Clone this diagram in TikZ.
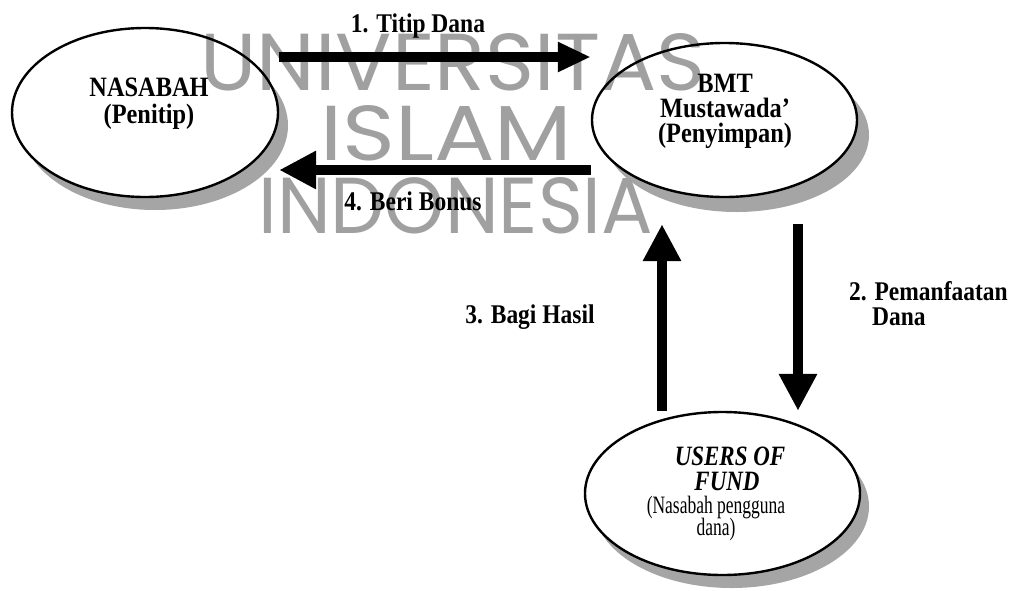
\documentclass[tikz,border=0pt]{standalone}
\usepackage{graphicx}
\usepackage{fontspec}
\setmainfont{Liberation Serif}
\newfontfamily\wmfont{Poppins}
\newfontfamily\lblserif[FakeStretch=0.87]{Liberation Serif}
\newfontfamily\ufserif[FakeStretch=0.82]{Liberation Serif}
\newfontfamily\nsserif[FakeStretch=0.70]{Liberation Serif}
\usetikzlibrary{shapes.geometric,arrows.meta,calc}
\definecolor{wmgray}{RGB}{160,160,160}
\definecolor{shgray}{RGB}{165,165,165}
\pgfdeclarelayer{shadow}
\pgfdeclarelayer{wm}
\pgfsetlayers{shadow,wm,main}
\begin{document}
\begin{tikzpicture}[x=1pt,y=-1pt,
  oval/.style={ellipse, draw=black, line width=2.4pt, inner sep=0pt},
  bigarrow/.style={line width=10pt, -{Triangle[length=37pt,width=36pt]}},
  smallarrow/.style={line width=10pt, -{Triangle[length=33pt,width=28pt]}},
  lbl/.style={font={\lblserif\bfseries\fontsize{27}{29}\selectfont}, inner sep=0pt, anchor=base},
  ovtxt/.style={font={\lblserif\bfseries\fontsize{28}{30}\selectfont}, inner sep=0pt, anchor=base},
  uftxt/.style={font={\ufserif\bfseries\itshape\fontsize{28}{30}\selectfont}, inner sep=0pt, anchor=base},
  nstxt/.style={font={\nsserif\fontsize{25}{27}\selectfont}, inner sep=0pt, anchor=base},
  wm/.style={text=wmgray, font=\wmfont, inner sep=0pt, anchor=base west}]
\useasboundingbox (0,0) rectangle (1013,590);

% ellipses
\node[oval, minimum width=266pt, minimum height=169pt] (nas) at (145,112.5) {};
\node[oval, minimum width=265pt, minimum height=154pt] (bmt) at (724.5,120) {};
\node[oval, minimum width=275pt, minimum height=163pt] (users) at (722.5,493.5) {};

% shadows and white backgrounds
\begin{pgfonlayer}{shadow}
  \fill[shgray] ([shift={(10,13)}]nas.center) ellipse [x radius=133pt, y radius=84.5pt];
  \fill[shgray] ([shift={(12,15)}]bmt.center) ellipse [x radius=132.5pt, y radius=77pt];
  \fill[shgray] ([shift={(9,13)}]users.center) ellipse [x radius=137.5pt, y radius=81.5pt];
  \fill[white] (nas.center) ellipse [x radius=133pt, y radius=84.5pt];
  \fill[white] (bmt.center) ellipse [x radius=132.5pt, y radius=77pt];
  \fill[white] (users.center) ellipse [x radius=137.5pt, y radius=81.5pt];
\end{pgfonlayer}

% watermark
\begin{pgfonlayer}{wm}
  \node[wm] (wm1) at (200,90) {\resizebox{505pt}{57pt}{UNIVERSITAS}};
  \node[wm] (wm2) at (320,160) {\resizebox{252pt}{55pt}{ISLAM}};
  \node[wm] (wm3) at (258,233) {\resizebox{395pt}{56pt}{INDONESIA}};
\end{pgfonlayer}

% texts in ellipses
\node[ovtxt] (nas1) at (149,96) {NASABAH};
\node[ovtxt] (nas2) at (149,123) {(Penitip)};
\node[ovtxt] (bmt1) at (725,92) {BMT};
\node[ovtxt] (bmt2) at (725,117) {Mustawada’};
\node[ovtxt] (bmt3) at (725,142) {(Penyimpan)};
\node[uftxt] (us1) at (730,465) {USERS OF};
\node[uftxt] (us2) at (727,490) {FUND};
\node[nstxt] (us3) at (716,513) {(Nasabah pengguna};
\node[nstxt] (us4) at (716,535) {dana)};

% arrows
\draw[smallarrow] (nas.east |- 0,57) -- (bmt.west |- 0,57);
\draw[bigarrow] (bmt.west |- 0,170) -- (nas.east |- 0,170);
\draw[bigarrow] (users.north -| 662,0) -- ($(bmt.south -| 662,0)+(0,26)$);
\draw[bigarrow] ($(bmt.south -| 798,0)+(0,26)$) -- (users.north -| 798,0);

% labels
\node[lbl] (l1) at (418,32) {1. Titip Dana};
\node[lbl] (l4) at (413,210) {4. Beri Bonus};
\node[lbl] (l3) at (530,323) {3. Bagi Hasil};
\node[lbl, anchor=base west] (l2a) at (849,300) {2. Pemanfaatan};
\node[lbl, anchor=base west] (l2b) at (872,325) {Dana};
\end{tikzpicture}
\end{document}
